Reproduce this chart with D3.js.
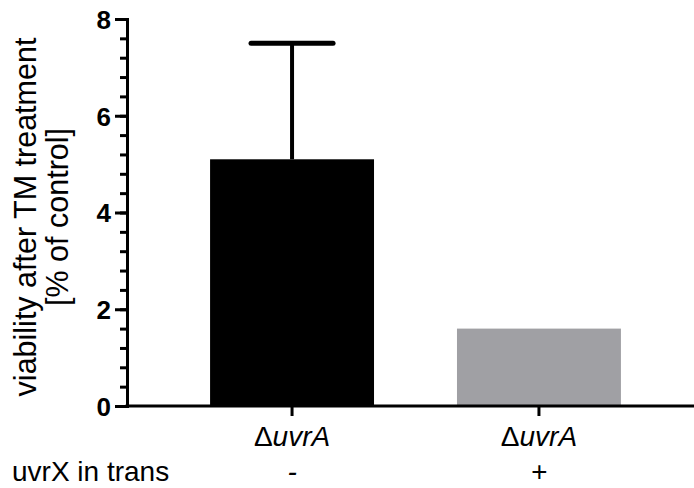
<!DOCTYPE html>
<html lang="en">
<head>
    <script src="https://d3js.org/d3.v7.min.js"></script>
    <style>
        body {
            margin: 0px;
            background: #fff;
        }
        text {
            font-family: "Liberation Sans", Arial, Helvetica, sans-serif;
        }
    </style>
</head>
<body>
<svg id="chart"></svg>
<script>
// Data
var groups = ["-", "+"];
var strainLabels = ["uvrA", "uvrA"];
var means = [5.1, 1.6];
var errTop = [7.5, null];
var barColors = ["#000000", "#a0a0a4"];
var majorTicks = [0, 2, 4, 6, 8];

// Variables
var width = 694;
var height = 488;
var margin = {top: 19, left: 127, bottom: 82};

var svg = d3.select('#chart')
    .attr('width', width)
    .attr('height', height);

var y = d3.scaleLinear()
    .domain([0, 8])
    .range([height - margin.bottom, margin.top]);

var x = d3.scaleBand()
    .domain(groups)
    .range([136, 695])
    .paddingInner(0.336)
    .paddingOuter(0.3);

// Bars
svg.selectAll('rect.bar')
    .data(means)
    .enter().append('rect')
    .attr('class', 'bar')
    .attr('x', function(d, i) { return x(groups[i]); })
    .attr('width', x.bandwidth())
    .attr('y', function(d) { return y(d); })
    .attr('height', function(d) { return y(0) - y(d); })
    .style('fill', function(d, i) { return barColors[i]; });

// Error bars (upper only)
var errs = svg.selectAll('g.err')
    .data(means.map(function(m, i) { return {m: m, top: errTop[i], g: groups[i]}; })
        .filter(function(d) { return d.top != null; }))
    .enter().append('g')
    .attr('class', 'err');

errs.append('line')
    .attr('x1', function(d) { return x(d.g) + x.bandwidth() / 2; })
    .attr('x2', function(d) { return x(d.g) + x.bandwidth() / 2; })
    .attr('y1', function(d) { return y(d.m); })
    .attr('y2', function(d) { return y(d.top); })
    .style('stroke', '#000')
    .style('stroke-width', 4);

errs.append('line')
    .attr('x1', function(d) { return x(d.g) + x.bandwidth() / 2 - 41; })
    .attr('x2', function(d) { return x(d.g) + x.bandwidth() / 2 + 41; })
    .attr('y1', function(d) { return y(d.top); })
    .attr('y2', function(d) { return y(d.top); })
    .style('stroke', '#000')
    .style('stroke-width', 5)
    .style('stroke-linecap', 'round');

// Y axis: minor ticks then major ticks with labels
var minorAxis = svg.append('g')
    .attr('transform', 'translate(' + margin.left + ',0)')
    .call(d3.axisLeft(y).tickValues(d3.range(0, 8.01, 0.4)).tickSize(7).tickFormat(''));

var majorAxis = svg.append('g')
    .attr('transform', 'translate(' + margin.left + ',0)')
    .call(d3.axisLeft(y).tickValues(majorTicks).tickSize(12).tickPadding(4).tickFormat(d3.format('d')));

svg.selectAll('.domain, .tick line')
    .style('stroke', '#000')
    .style('stroke-width', 3);

majorAxis.selectAll('text')
    .style('font-size', '26px')
    .style('font-weight', 'bold')
    .style('fill', '#000')
    .attr('dy', '0.36em');

// X axis line and ticks
svg.append('line')
    .attr('x1', margin.left - 1.5)
    .attr('x2', width)
    .attr('y1', y(0))
    .attr('y2', y(0))
    .style('stroke', '#000')
    .style('stroke-width', 3);

svg.selectAll('line.xtick')
    .data(groups)
    .enter().append('line')
    .attr('class', 'xtick')
    .attr('x1', function(d) { return x(d) + x.bandwidth() / 2; })
    .attr('x2', function(d) { return x(d) + x.bandwidth() / 2; })
    .attr('y1', y(0))
    .attr('y2', y(0) + 10)
    .style('stroke', '#000')
    .style('stroke-width', 3);

// Strain labels
var strain = svg.selectAll('text.strain')
    .data(groups)
    .enter().append('text')
    .attr('class', 'strain')
    .attr('x', function(d) { return x(d) + x.bandwidth() / 2; })
    .attr('y', 446)
    .attr('text-anchor', 'middle')
    .style('font-size', '28px');
strain.append('tspan').text('\u0394');
strain.append('tspan')
    .style('font-style', 'italic')
    .text(function(d, i) { return strainLabels[i]; });

// uvrX row
svg.selectAll('text.trans')
    .data(groups)
    .enter().append('text')
    .attr('class', 'trans')
    .attr('x', function(d) { return x(d) + x.bandwidth() / 2; })
    .attr('y', 481)
    .attr('text-anchor', 'middle')
    .style('font-size', '28px')
    .style('font-style', 'italic')
    .text(function(d) { return d; });

svg.append('text')
    .attr('x', 12)
    .attr('y', 481)
    .style('font-size', '28px')
    .text('uvrX in trans');

// Y axis title
var ytitle = svg.append('text')
    .attr('transform', 'translate(36,' + 217 + ') rotate(-90)')
    .attr('text-anchor', 'middle')
    .style('font-size', '30.5px');
ytitle.append('tspan')
    .attr('x', 0)
    .attr('y', 0)
    .text('viability after TM treatment');
ytitle.append('tspan')
    .attr('x', 0)
    .attr('y', 32)
    .text('[% of control]');
</script>
</body>
</html>
